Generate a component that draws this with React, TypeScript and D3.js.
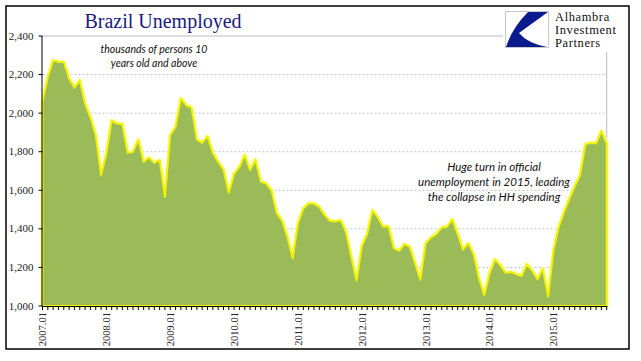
import React from 'react'
import * as d3 from 'd3'

// Brazil unemployed, thousands, monthly 2007.01 .. 2015.11
const years = ['2007', '2008', '2009', '2010', '2011', '2012', '2013', '2014', '2015']
const months = years.flatMap(y => ['01', '02', '03', '04', '05', '06', '07', '08', '09', '10', '11', '12'].map(m => `${y}.${m}`)).slice(0, 107)

const unemployed = [
  2058, 2187, 2274, 2265, 2265, 2179, 2132, 2170, 2049, 1977, 1885, 1678,
  1790, 1963, 1946, 1942, 1794, 1799, 1863, 1747, 1770, 1742, 1756, 1566,
  1885, 1929, 2076, 2041, 2029, 1863, 1846, 1880, 1794, 1747, 1708, 1587,
  1687, 1721, 1782, 1704, 1759, 1644, 1635, 1601, 1483, 1442, 1359, 1247,
  1428, 1506, 1531, 1531, 1514, 1471, 1442, 1438, 1445, 1385, 1255, 1131,
  1311, 1373, 1497, 1459, 1411, 1414, 1299, 1286, 1321, 1307, 1221, 1135,
  1325, 1356, 1373, 1407, 1411, 1449, 1373, 1293, 1325, 1269, 1143, 1057,
  1169, 1242, 1212, 1172, 1176, 1166, 1155, 1217, 1183, 1138, 1193, 1048,
  1290, 1411, 1488, 1557, 1621, 1678, 1839, 1846, 1842, 1908, 1842,
]

const yTicks = [1000, 1200, 1400, 1600, 1800, 2000, 2200, 2400]
const xLabels = ['2007.01', '2008.01', '2009.01', '2010.01', '2011.01', '2012.01', '2013.01', '2014.01', '2015.01']

const noteLeft = ['thousands of persons 10', 'years old and above']
const noteRight = ['Huge turn in official', 'unemployment in 2015, leading', 'the collapse in HH spending']
const logoLines = ['Alhambra', 'Investment', 'Partners']

export default function App() {
  const x = d3.scalePoint<string>().domain(months).range([42.5, 606.7])
  const y = d3.scaleLinear().domain([1000, 2400]).range([306, 36])
  const fmt = d3.format(',')

  const area = d3.area<number>()
    .x((_, i) => x(months[i]) as number)
    .y0(y(1000))
    .y1(d => y(d))

  const path = area(unemployed) || ''
  const left = x.range()[0]
  const right = x.range()[1]

  return (
    <svg width={641} height={361} style={{ position: 'absolute', left: 0, top: 0, background: '#fff' }}>
      {/* outer frame */}
      <rect x={6} y={6} width={623} height={343} fill="#fff" stroke="#000" strokeWidth={1.5} />

      {/* gridlines */}
      {yTicks.slice(1, -1).map(t => (
        <line key={t} x1={left} x2={right} y1={y(t)} y2={y(t)} stroke="#b4b4b4" strokeWidth={0.8} strokeDasharray="2,2" />
      ))}
      {/* plot border: top & right */}
      <line x1={left} x2={right} y1={y(2400)} y2={y(2400)} stroke="#bcbcbc" strokeWidth={1} />
      <line x1={right} x2={right} y1={y(2400)} y2={y(1000)} stroke="#bcbcbc" strokeWidth={1} />

      {/* area */}
      <path d={path} fill="#9bbb59" stroke="#ffff99" strokeWidth={4.5} strokeOpacity={0.7} strokeLinejoin="round" />
      <path d={path} fill="#9bbb59" stroke="#f2f200" strokeWidth={2} strokeLinejoin="round" />

      {/* y axis */}
      <line x1={left - 0.5} x2={left - 0.5} y1={y(2400)} y2={y(1000)} stroke="#000" strokeWidth={1} />
      {yTicks.map(t => (
        <g key={t}>
          <line x1={left - 4} x2={left} y1={y(t)} y2={y(t)} stroke="#000" strokeWidth={1} />
          <text x={33.5} y={y(t) + 3.5} textAnchor="end" fontFamily="Liberation Serif" fontSize={11} fill="#222">{fmt(t)}</text>
        </g>
      ))}

      {/* x axis */}
      <line x1={left - 0.5} x2={right + 0.5} y1={306.5} y2={306.5} stroke="#000" strokeWidth={1} />
      {months.map(m => (
        <line key={m} x1={(x(m) as number)} x2={(x(m) as number)} y1={306} y2={310} stroke="#000" strokeWidth={1} />
      ))}
      {xLabels.map(l => (
        <text key={l} transform={`translate(${(x(l) as number) + 3.8},312) rotate(-90)`} textAnchor="end"
          fontFamily="Liberation Serif" fontSize={10.5} fill="#222">{l}</text>
      ))}

      {/* title */}
      <text x={163} y={27.5} textAnchor="middle" fontFamily="Liberation Serif" fontSize={20} fill="#1a1a80">Brazil Unemployed</text>

      {/* notes */}
      {noteLeft.map((t, i) => (
        <text key={t} x={154} y={53 + i * 13.5} textAnchor="middle" fontFamily="Lato" fontStyle="italic" fontSize={10.5} fill="#111">{t}</text>
      ))}
      {noteRight.map((t, i) => (
        <text key={t} x={494} y={170.5 + i * 15} textAnchor="middle" fontFamily="Lato" fontStyle="italic" fontSize={11.5} fill="#111">{t}</text>
      ))}

      {/* logo */}
      <rect x={503} y={8} width={124} height={44} fill="#fff" />
      <rect x={505.5} y={11.5} width={43} height={36} fill="#fff" stroke="#c8c8c8" strokeWidth={1} />
      <path d="M528,12 L548,12 L519,33 Q527,43 547,47 L506,47 Q512,28 528,12 Z" fill="#0b1a8c" />
      {logoLines.map((t, i) => (
        <text key={t} x={555} y={20.5 + i * 13.2} fontFamily="Liberation Serif" fontSize={12.5} letterSpacing={0.6} fill="#111">{t}</text>
      ))}
    </svg>
  )
}
